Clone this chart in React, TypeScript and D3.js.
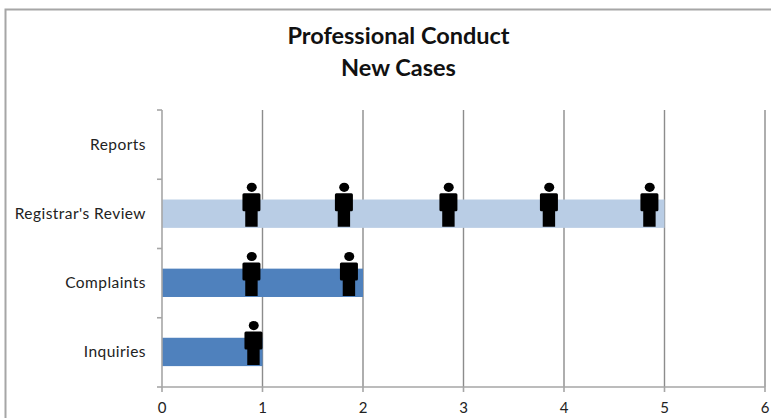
import React from 'react';
import * as d3 from 'd3';

const categories = ['Reports', "Registrar's Review", 'Complaints', 'Inquiries'];
const caseCounts = [0, 5, 2, 1];
const barColors = ['#b9cde5', '#b9cde5', '#4f81bd', '#4f81bd'];
const xTicks = [0, 1, 2, 3, 4, 5, 6];
const titleLines = ['Professional Conduct', 'New Cases'];

// where each person icon sits along the x axis, one list per category
const peoplePositions = [
  [],
  [0.89, 1.81, 2.85, 3.85, 4.85],
  [0.89, 1.86],
  [0.91],
];

const width = 771;
const height = 418;
const plot = { left: 162, right: 765, top: 110, bottom: 387 };
const axisColor = '#a6a6a6';
const fontFamily = 'Lato, "Open Sans", sans-serif';

const x = d3.scaleLinear().domain([0, 6]).range([plot.left, plot.right]);
const y = d3
  .scaleBand<string>()
  .domain(categories)
  .range([plot.top, plot.bottom - 0.5])
  .paddingInner(0.59)
  .paddingOuter(0.295);
const bandEdges = d3.range(categories.length + 1).map((i) => plot.top + (i * (plot.bottom - plot.top)) / categories.length);

// person icon, drawn around its own centre line with the feet at y = 0
const Person = ({ cx, feet }: { cx: number; feet: number }) => (
  <g transform={`translate(${cx},${feet})`} fill="#000">
    <ellipse cx={0.3} cy={-39.5} rx={5} ry={4.6} />
    <path d="M-7.5 -33.5 H7.5 Q9 -33.5 9 -32 V-17 Q9 -15.5 7.5 -15.5 H6.2 V0 H-6.2 V-15.5 H-7.5 Q-9 -15.5 -9 -17 V-32 Q-9 -33.5 -7.5 -33.5 Z" />
  </g>
);

export default function App() {
  return (
    <svg
      width={width}
      height={height}
      viewBox={`0 0 ${width} ${height}`}
      style={{ position: 'absolute', left: 0, top: 0, background: '#fff', display: 'block' }}
    >
      {/* chart frame */}
      <path d="M5.5 418 V9.5 H771" fill="none" stroke="#a6a6a6" strokeWidth={2} />

      {/* title */}
      {titleLines.map((line, i) => (
        <text
          key={line}
          x={398.5}
          y={43.5 + i * 32}
          textAnchor="middle"
          fontFamily={fontFamily}
          fontWeight={700}
          fontSize={23.5}
          fill="#111"
        >
          {line}
        </text>
      ))}

      {/* vertical gridlines */}
      {xTicks.slice(1).map((t) => (
        <line key={t} x1={x(t)} x2={x(t)} y1={plot.top} y2={plot.bottom} stroke="#8c8c8c" strokeWidth={1.4} />
      ))}

      {/* bars */}
      {categories.map((c, i) => (
        <rect
          key={c}
          x={x(0)}
          y={y(c)}
          width={x(caseCounts[i]) - x(0)}
          height={y.bandwidth()}
          fill={barColors[i]}
        />
      ))}

      {/* axes */}
      <g stroke={axisColor} strokeWidth={1.6}>
        <line x1={plot.left} x2={plot.left} y1={plot.top} y2={plot.bottom} />
        <line x1={plot.left} x2={plot.right} y1={plot.bottom} y2={plot.bottom} />
        {bandEdges.map((e) => (
          <line key={e} x1={plot.left - 5} x2={plot.left} y1={e} y2={e} />
        ))}
        {xTicks.map((t) => (
          <line key={t} x1={x(t)} x2={x(t)} y1={plot.bottom} y2={plot.bottom + 5} />
        ))}
      </g>

      {/* people */}
      {categories.map((c, i) =>
        peoplePositions[i].map((p) => (
          <Person key={`${c}-${p}`} cx={x(p)} feet={y(c)! + y.bandwidth() - 1} />
        ))
      )}

      {/* tick labels */}
      {categories.map((c) => (
        <text
          key={c}
          x={146}
          y={y(c)! + y.bandwidth() / 2 + 5}
          textAnchor="end"
          fontFamily={fontFamily}
          fontSize={15.5}
          letterSpacing={0.45}
          fill="#222"
        >
          {c}
        </text>
      ))}
      {xTicks.map((t) => (
        <text
          key={t}
          x={x(t)}
          y={413}
          textAnchor="middle"
          fontFamily={fontFamily}
          fontSize={15}
          fill="#222"
        >
          {t}
        </text>
      ))}
    </svg>
  );
}
